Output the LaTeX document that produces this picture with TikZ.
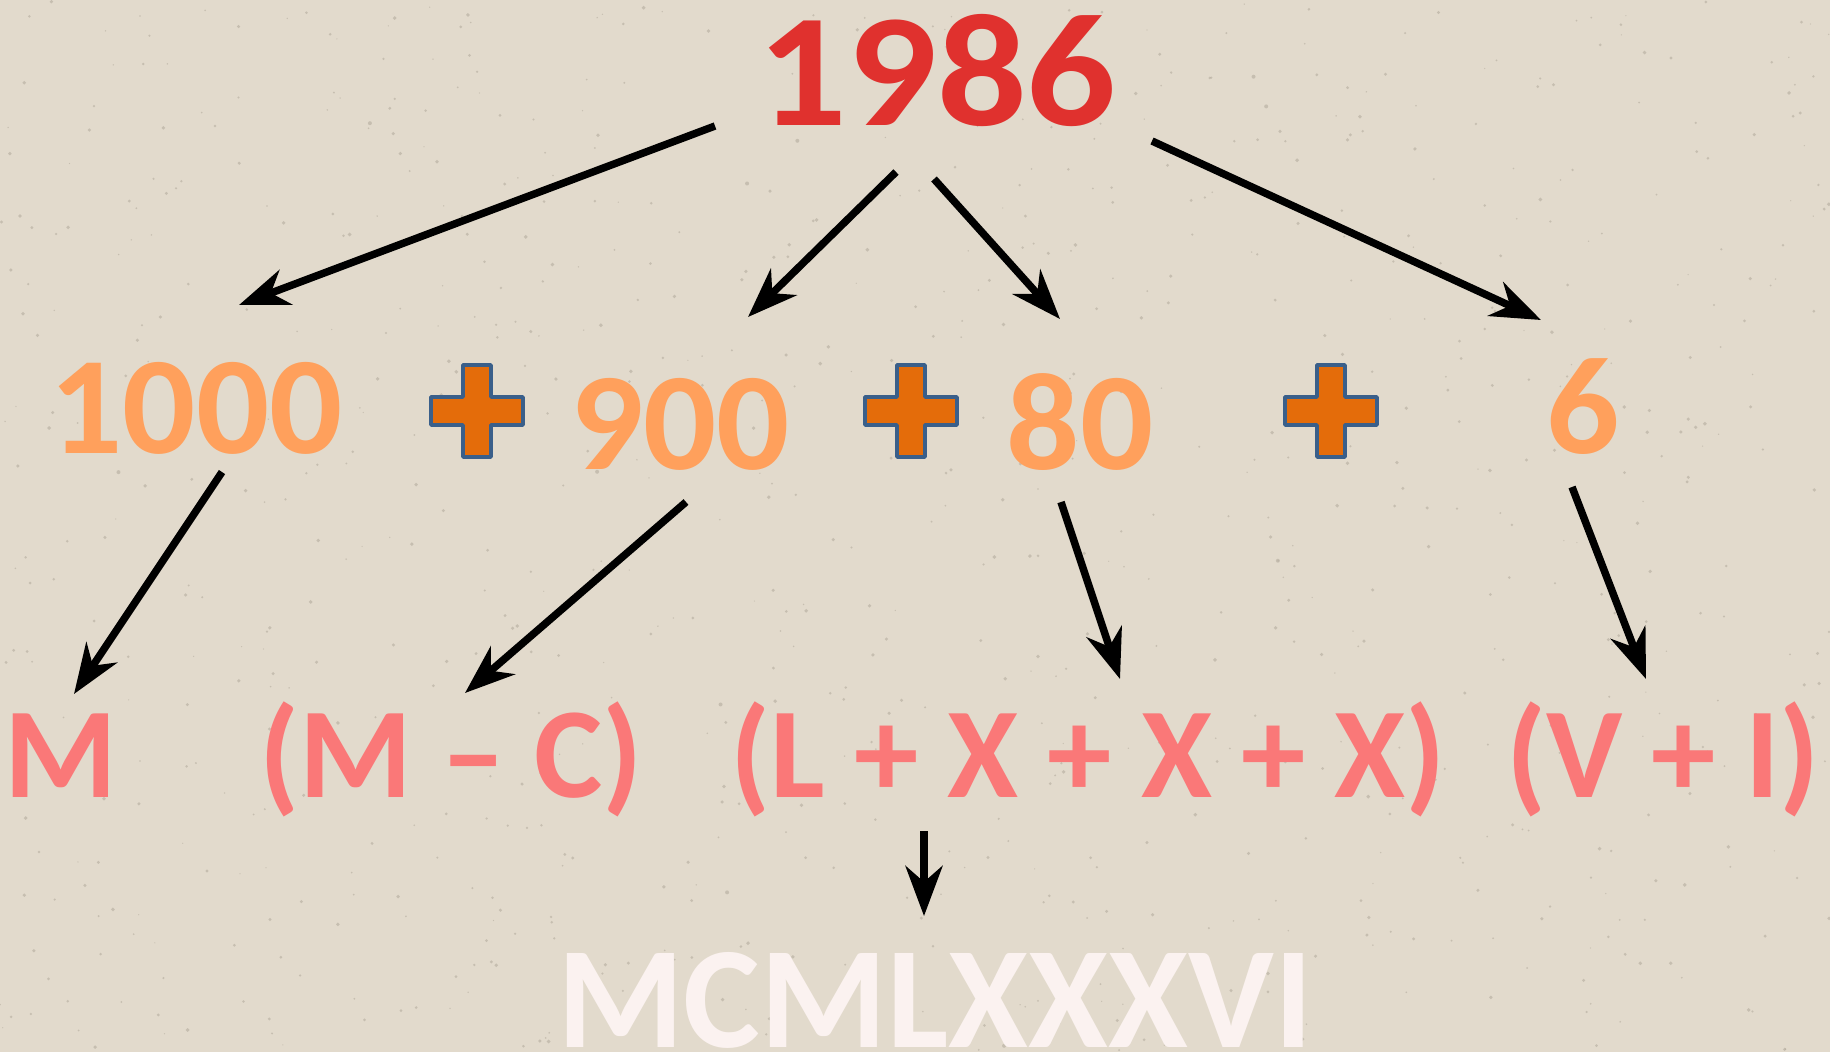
\documentclass[tikz,border=0pt]{standalone}
\usepackage{fontspec}
\newfontfamily\cbf{Carlito}
\newfontfamily\cyear{Carlito}[FakeStretch=1.10]
\newfontfamily\cpart{Carlito}[FakeStretch=1.04]
\usetikzlibrary{arrows.meta}
\definecolor{bgc}{RGB}{226,218,204}
\definecolor{speck}{RGB}{176,168,154}
\definecolor{yearred}{RGB}{224,49,46}
\definecolor{partorange}{RGB}{255,160,92}
\definecolor{romanpink}{RGB}{250,120,120}
\definecolor{finalpink}{RGB}{251,242,240}
\definecolor{plusfill}{RGB}{228,108,10}
\definecolor{plusedge}{RGB}{58,95,138}
\tikzset{
  year/.style={anchor=base,inner sep=0pt,text=yearred,font=\cyear\bfseries\fontsize{161}{161}\selectfont},
  part/.style={anchor=base,inner sep=0pt,text=partorange,font=\cpart\bfseries\fontsize{139}{139}\selectfont},
  roman/.style={anchor=base,inner sep=0pt,text=romanpink,font=\cbf\bfseries\fontsize{129}{129}\selectfont},
  final/.style={anchor=base,inner sep=0pt,text=finalpink,font=\cbf\bfseries\fontsize{145}{145}\selectfont},
  arr/.style={line width=7.5pt,-{Stealth[length=50pt,width=37pt,inset=16pt]}},
  plusshape/.style={fill=plusfill,draw=plusedge,line width=3.5pt,line join=round}
}
\newcommand\plusmark[2]{%
  \path[plusshape] (#1-14,#2-46) -- (#1+14,#2-46) -- (#1+14,#2-14) -- (#1+46,#2-14)
   -- (#1+46,#2+14) -- (#1+14,#2+14) -- (#1+14,#2+46) -- (#1-14,#2+46) -- (#1-14,#2+14)
   -- (#1-46,#2+14) -- (#1-46,#2-14) -- (#1-14,#2-14) -- cycle;}
\begin{document}
\begin{tikzpicture}[x=1pt,y=-1pt]
\useasboundingbox (0,0) rectangle (1830,1052);
\fill[bgc] (0,0) rectangle (1830,1052);
\pgfmathsetseed{1986}
\foreach \k in {1,...,900}{\fill[speck,opacity=0.55] (1830*rnd,1052*rnd) circle (0.6+1.4*rnd);}
% nodes
\node[year] (y) at (937,125) {1986};
\node[part] (p1000) at (196,453) {1000};
\node[part] (p900) at (680,469) {900};
\node[part] (p80) at (1080,469) {80};
\node[part] (p6) at (1583,453) {6};
\node[roman] (rM) at (61,797) {M};
\node[roman] (rMC) at (451,797) {(M – C)};
\node[roman] (rLX) at (1088,797) {(L + X + X + X)};
\node[roman] (rVI) at (1663,797) {(V + I)};
\node[final] (fin) at (935,1047) {MCMLXXXVI};
% plus signs
\plusmark{477}{411}
\plusmark{911}{411}
\plusmark{1331}{411}
% arrow endpoints
\coordinate (a1s) at (715,126);  \coordinate (a1e) at (239,305);
\coordinate (a2s) at (896,172);  \coordinate (a2e) at (748,317);
\coordinate (a3s) at (934,179);  \coordinate (a3e) at (1060,319);
\coordinate (a4s) at (1152,141); \coordinate (a4e) at (1541,320);
\coordinate (b1s) at (222,472);  \coordinate (b1e) at (74,694);
\coordinate (b2s) at (686,502);  \coordinate (b2e) at (465,693);
\coordinate (b3s) at (1061,502); \coordinate (b3e) at (1120,679);
\coordinate (b4s) at (1572,487); \coordinate (b4e) at (1646,679);
\coordinate (cs) at (924,831);   \coordinate (ce) at (924,916);
\draw[arr] (a1s) -- (a1e);
\draw[arr] (a2s) -- (a2e);
\draw[arr] (a3s) -- (a3e);
\draw[arr] (a4s) -- (a4e);
\draw[arr] (b1s) -- (b1e);
\draw[arr] (b2s) -- (b2e);
\draw[arr] (b3s) -- (b3e);
\draw[arr] (b4s) -- (b4e);
\draw[arr] (cs) -- (ce);
\end{tikzpicture}
\end{document}
